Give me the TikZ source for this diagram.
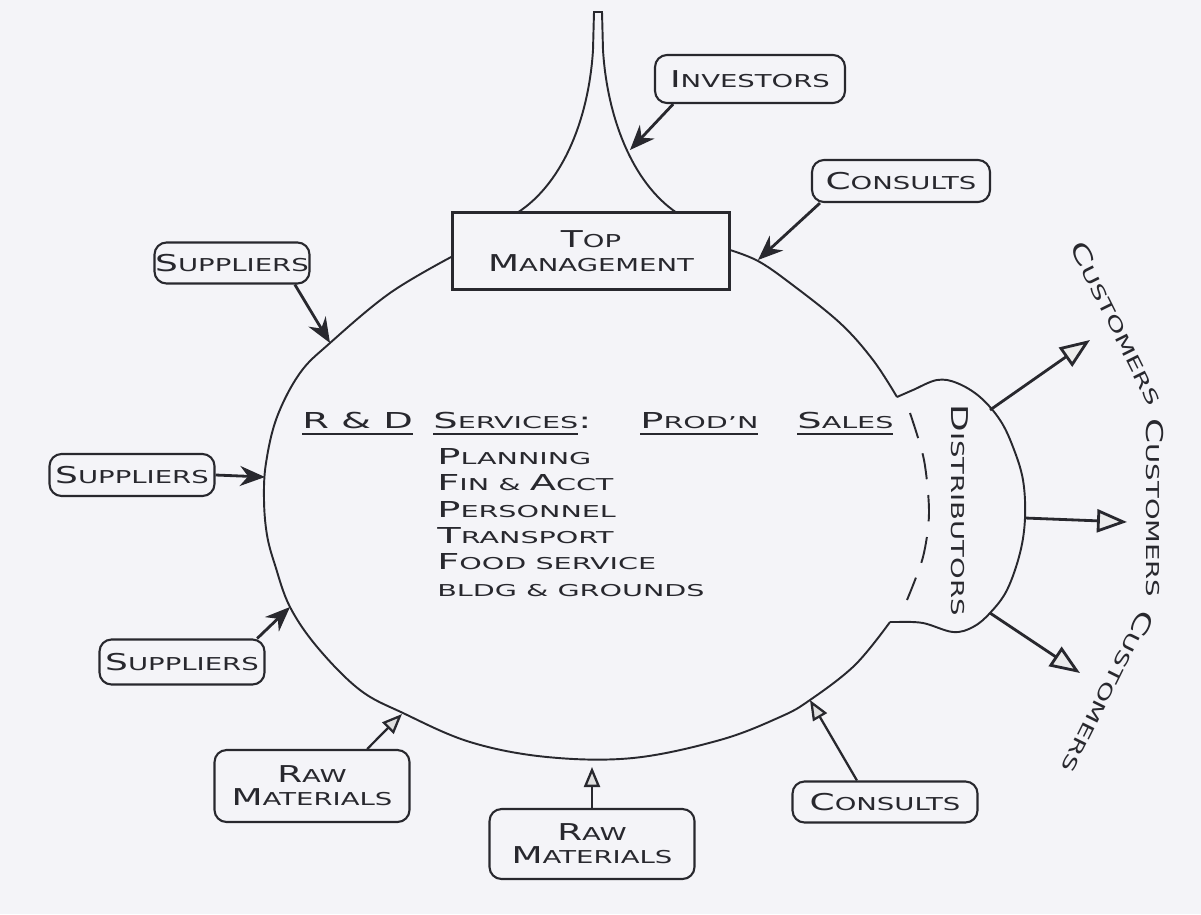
\documentclass[tikz,border=0pt]{standalone}
\usepackage{fontspec}
\setmainfont{DejaVu Sans}
\usetikzlibrary{arrows.meta,calc,positioning}
\definecolor{ink}{RGB}{40,40,46}
\definecolor{paper}{RGB}{244,244,248}
% Kapitaelchen (gross/klein), breit gezogen
\newcommand{\kap}[2]{{\fontsize{13.2}{15}\selectfont #1}{\fontsize{10.1}{12}\selectfont #2}}
\newcommand{\kapk}[2]{{\fontsize{12.5}{14}\selectfont #1}{\fontsize{9.3}{11}\selectfont #2}}
\newcommand{\breit}[1]{\scalebox{1.55}[1]{#1}}
\newcommand{\breitk}[1]{\scalebox{1.75}[1]{#1}}
\newcommand{\unter}[1]{\sbox0{#1}\rlap{\usebox0}\raisebox{-4pt}{\rule{\wd0}{0.9pt}}}

\begin{document}
\begin{tikzpicture}[x=0.02cm,y=-0.02cm,
    kasten/.style={draw=ink,line width=1.2pt,rounded corners=2.4mm,inner sep=0pt,align=center,text=ink},
    umriss/.style={draw=ink,line width=1.1pt},
    voll/.style={draw=ink,line width=1.6pt,-{Stealth[length=5mm,width=4mm]}},
    hohl/.style={draw=ink,line width=1.3pt,-{Triangle[length=4mm,width=3.2mm,fill=gray!25]}},
    kunde/.style={draw=ink,line width=1.6pt,-{Triangle[length=6mm,width=4.6mm,fill=gray!15]}},
    schrift/.style={text=ink,inner sep=0pt}]
        % Hintergrund
        \path[fill=paper] (0,0) rectangle (1201,914);
        % Rechteck - Top Management
        \node[kasten,rounded corners=0pt,line width=1.4pt,minimum width=5.54cm,minimum height=1.54cm] (top) at (591,251)
            {\breit{\kap{T}{OP}}\\[2pt]\breit{\kap{M}{ANAGEMENT}}};
        % Spitze ueber Top Management
        \draw[umriss] (517,213) .. controls (565,182) and (589,115) .. (593,50) -- (594,12) -- (602,12)
            -- (603,50) .. controls (607,115) and (631,182) .. (677,213);
        % Umriss links und unten
        \draw[umriss] plot[smooth,tension=0.6] coordinates {(453,256) (390,293) (330,343) (300,373) (277,417)
            (266,463) (264,500) (267,535) (275,565) (290,607) (318,648) (360,690) (403,713) (470,742)
            (547,757) (633,758) (720,740) (780,717) (810,700) (855,665) (890,622)};
        % Umriss rechts oben
        \draw[umriss] plot[smooth,tension=0.6] coordinates {(730,250) (758,261) (790,283) (840,323) (873,360) (897,397)};
        % Ausbuchtung - Distributors
        \draw[umriss] plot[smooth,tension=0.6] coordinates {(897,397) (913,390) (937,380) (957,383) (980,397)
            (1000,420) (1013,447) (1023,480) (1025,518) (1020,553) (1007,590) (990,613) (973,627)
            (953,632) (923,623) (898,622)} -- (890,622);
        \draw[umriss,dash pattern=on 15pt off 9pt] plot[smooth] coordinates {(910,413) (924,460) (929,513) (923,557) (907,600)};
        \node[schrift,rotate=-90] (dist) at (960,510) {\breit{\kap{D}{ISTRIBUTORS}}};
        % Kaesten aussen
        \node[kasten,minimum width=3.8cm,minimum height=0.96cm] (inv) at (750,79) {\breit{\kap{I}{NVESTORS}}};
        \node[kasten,minimum width=3.56cm,minimum height=0.84cm] (con1) at (901,181) {\breit{\kap{C}{ONSULTS}}};
        \node[kasten,minimum width=3.1cm,minimum height=0.82cm] (lie1) at (232,263) {\breit{\kap{S}{UPPLIERS}}};
        \node[kasten,minimum width=3.3cm,minimum height=0.84cm] (lie2) at (132,475) {\breit{\kap{S}{UPPLIERS}}};
        \node[kasten,minimum width=3.3cm,minimum height=0.9cm] (lie3) at (182,662) {\breit{\kap{S}{UPPLIERS}}};
        \node[kasten,minimum width=3.9cm,minimum height=1.44cm] (roh1) at (312,786)
            {\breit{\kap{R}{AW}}\\[1pt]\breit{\kap{M}{ATERIALS}}};
        \node[kasten,minimum width=4.1cm,minimum height=1.4cm] (roh2) at (592,844)
            {\breit{\kap{R}{AW}}\\[1pt]\breit{\kap{M}{ATERIALS}}};
        \node[kasten,minimum width=3.7cm,minimum height=0.82cm] (con2) at (885,802) {\breit{\kap{C}{ONSULTS}}};
        % Pfeilspitzen am Umriss
        \coordinate (zInv) at (630,150);
        \coordinate (zCon1) at (758,260);
        \coordinate (zLie1) at (330,343);
        \coordinate (zLie2) at (265,477);
        \coordinate (zLie3) at (290,607);
        \coordinate (zRoh1) at (402,714);
        \coordinate (zRoh2) at (592,767);
        \coordinate (zCon2) at (810,700);
        % Pfeile nach innen
        \draw[voll] ($(inv.south west)!0.1!(inv.south east)$) -- (zInv);
        \draw[voll] ($(con1.south west)!0.05!(con1.south east)$) -- (zCon1);
        \draw[voll] ($(lie1.south west)!0.9!(lie1.south east)$) -- (zLie1);
        \draw[voll] (lie2.east) -- (zLie2);
        \draw[voll] ($(lie3.north west)!0.95!(lie3.north east)$) -- (zLie3);
        \draw[hohl] ($(roh1.north west)!0.78!(roh1.north east)$) -- (zRoh1);
        \draw[hohl] (roh2.north) -- (zRoh2);
        \draw[hohl] ($(con2.north west)!0.35!(con2.north east)$) -- (zCon2);
        % Pfeile zu den Kunden
        \coordinate (dOben) at (990,410);
        \coordinate (dMitte) at (1025,518);
        \coordinate (dUnten) at (990,613);
        \coordinate (kOben) at (1090,340);
        \coordinate (kMitte) at (1127,522);
        \coordinate (kUnten) at (1080,673);
        \draw[kunde] (dOben) -- (kOben);
        \draw[kunde] (dMitte) -- (kMitte);
        \draw[kunde] (dUnten) -- (kUnten);
        % Customers
        \node[schrift,rotate=-63.6] (kun1) at (1117,323) {\breit{\kap{C}{USTOMERS}}};
        \node[schrift,rotate=-90] (kun2) at (1155,508) {\breit{\kap{C}{USTOMERS}}};
        \node[schrift,rotate=-116.4] (kun3) at (1108,692) {\breit{\kap{C}{USTOMERS}}};
        % Bereiche innen
        \node[schrift,anchor=base west] (fe) at (302,428) {\unter{\breitk{\kapk{R \& D}{}}}};
        \node[schrift,anchor=base west] (dienst) at (433,428) {\unter{\breitk{\kapk{S}{ERVICES}}}\breitk{\kapk{:}{}}};
        \node[schrift,anchor=base west] (prod) at (640,428) {\unter{\breitk{\kapk{P}{ROD'N}}}};
        \node[schrift,anchor=base west] (verk) at (797,428) {\unter{\breitk{\kapk{S}{ALES}}}};
        \node[schrift,anchor=north west,align=left,font=\fontsize{9.3}{15}\selectfont] (liste) at (437,448) {%
            \breitk{\kapk{P}{LANNING}}\\
            \breitk{\kapk{F}{IN \& }\kapk{A}{CCT}}\\
            \breitk{\kapk{P}{ERSONNEL}}\\
            \breitk{\kapk{T}{RANSPORT}}\\
            \breitk{\kapk{F}{OOD SERVICE}}\\
            \breitk{\kapk{}{BLDG \& GROUNDS}}};
    \end{tikzpicture}
\end{document}
